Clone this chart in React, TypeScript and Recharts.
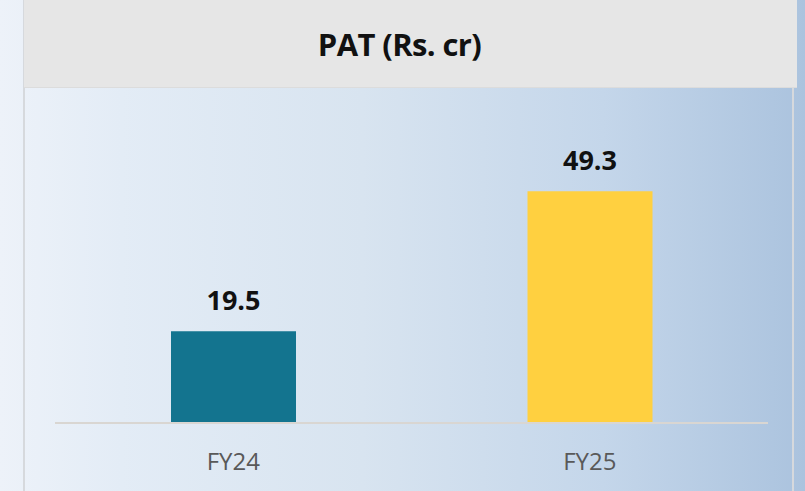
import React from "react";
import { BarChart, Bar, XAxis, YAxis, LabelList, Cell } from "recharts";

const categories = ["FY24", "FY25"];
const patValues = [19.5, 49.3];
const barColors = ["#13748f", "#ffd040"];
const title = "PAT (Rs. cr)";

const data = categories.map((c, i) => ({ name: c, value: patValues[i] }));

export default function App() {
  return (
    <div
      style={{
        position: "absolute",
        left: 0,
        top: 0,
        width: 805,
        height: 491,
        overflow: "hidden",
        background:
          "linear-gradient(90deg, #edf2f9 0%, #e3ecf6 15%, #d8e4f0 45%, #c4d6ea 75%, #abc3de 100%)",
        fontFamily: "'Open Sans', sans-serif",
      }}
    >
      <div
        style={{
          position: "absolute",
          left: 23,
          top: -2,
          width: 771,
          height: 500,
          borderLeft: "2px solid #d6d9dd",
          borderRight: "2px solid #d6d9dd",
          boxSizing: "border-box",
        }}
      />
      <div
        style={{
          position: "absolute",
          left: 24,
          top: 0,
          width: 773,
          height: 88,
          background: "#e6e6e6",
          borderBottom: "1px solid #dcdcdc",
          boxSizing: "border-box",
          display: "flex",
          alignItems: "center",
          justifyContent: "center",
        }}
      >
        <span
          style={{
            fontSize: 31,
            fontWeight: 700,
            color: "#111",
            letterSpacing: -0.6,
            marginRight: 22,
          }}
        >
          {title}
        </span>
      </div>
      <div style={{ position: "absolute", left: 0, top: 0 }}>
        <BarChart
          width={805}
          height={491}
          data={data}
          margin={{ top: 141, right: 37, bottom: 28, left: 55 }}
        >
          <XAxis
            dataKey="name"
            height={40}
            axisLine={{ stroke: "#d9d6d2", strokeWidth: 2 }}
            tickLine={false}
            tickMargin={24}
            tick={{ fill: "#595959", fontSize: 24, fontFamily: "'Open Sans', sans-serif" }}
          />
          <YAxis hide domain={[0, 60]} />
          <Bar dataKey="value" barSize={125} isAnimationActive={false}>
            {data.map((d, i) => (
              <Cell key={d.name} fill={barColors[i]} />
            ))}
            <LabelList
              dataKey="value"
              position="top"
              offset={21}
              style={{
                fill: "#111",
                fontSize: 27,
                fontWeight: 700,
                fontFamily: "'Open Sans', sans-serif",
              }}
            />
          </Bar>
        </BarChart>
      </div>
    </div>
  );
}
